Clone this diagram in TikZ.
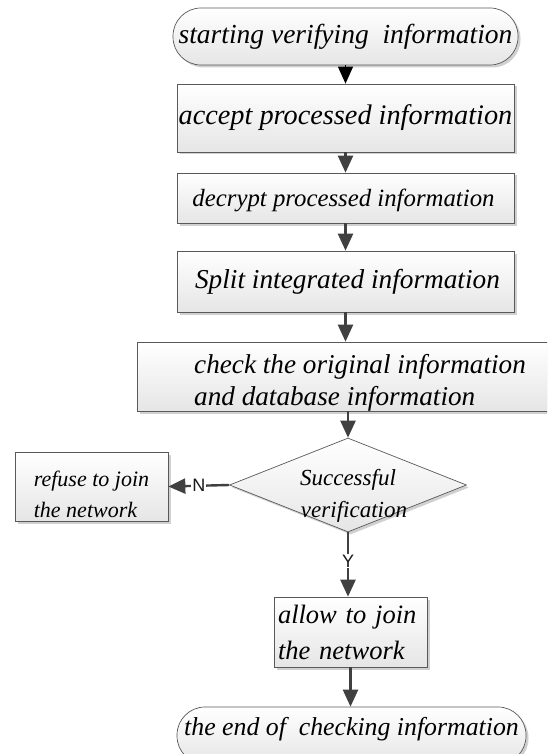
\documentclass[tikz,border=0pt]{standalone}
\usepackage{fontspec}
\setmainfont{Liberation Serif}
\newfontfamily\labsf{Liberation Sans}
\usetikzlibrary{shapes.geometric,arrows.meta,shadows}
\tikzset{
  shad/.style={drop shadow={shadow xshift=2.5pt,shadow yshift=-2.5pt,fill=black!30,opacity=0.6}},
  boxbase/.style={draw=black!65,line width=0.7pt,top color=white,bottom color=black!10,shad,inner sep=0pt},
  procbox/.style={boxbase,rectangle},
  termbox/.style={boxbase,rectangle,rounded corners=28pt},
  decbox/.style={boxbase,diamond,aspect=2.52},
  txt/.style={font=\itshape,text=black,align=center,inner sep=0pt},
  flow/.style={draw=black!75,line width=2.4pt,-{Triangle[length=17pt,width=15pt]}},
  flowblack/.style={draw=black,line width=1.2pt,-{Triangle[length=17pt,width=15pt]}},
  yn/.style={font=\labsf\fontsize{18}{18}\selectfont,fill=white,inner sep=1pt,text=black!90}
}
\begin{document}
\begin{tikzpicture}[x=1pt,y=-1pt]
\useasboundingbox (0,0) rectangle (547,754);
\clip (0,0) rectangle (547,754);
\fill[white] (0,0) rectangle (547,754);

\node[termbox,minimum width=345pt,minimum height=57pt,
  label={[txt,font=\itshape\fontsize{27.5}{32}\selectfont]center:starting verifying\ \ information}] (start) at (345.5,36.5) {};
\node[procbox,minimum width=337pt,minimum height=68pt,
  label={[txt,font=\itshape\fontsize{28.3}{32}\selectfont]center:accept\ processed\ information}] (accept) at (345.5,118) {};
\node[procbox,minimum width=337pt,minimum height=50pt,
  label={[txt,font=\itshape\fontsize{24.8}{30}\selectfont,xshift=-2pt,yshift=-2pt]center:decrypt\ processed\ information}] (decrypt) at (345.5,198) {};
\node[procbox,minimum width=337pt,minimum height=61pt,
  label={[txt,font=\itshape\fontsize{27.3}{32}\selectfont,xshift=2pt]center:Split integrated information}] (split) at (345.5,281.5) {};
\node[procbox,minimum width=446pt,minimum height=69pt,
  label={[txt,font=\itshape\fontsize{27.2}{32}\selectfont,align=left,yshift=-6pt]center:check the original information\\and database information}] (check) at (360,376.5) {};
\node[decbox,minimum width=237pt,minimum height=94pt,
  label={[txt,font=\itshape\fontsize{23}{32}\selectfont,yshift=-11pt]center:Successful\\\hspace*{12pt}verification}] (dia) at (348,485) {};
\node[procbox,minimum width=153pt,minimum height=69pt,
  label={[txt,font=\itshape\fontsize{22}{31}\selectfont,align=left,yshift=-8pt]center:refuse to join\\the network}] (refuse) at (91.5,486.5) {};
\node[procbox,minimum width=153pt,minimum height=70pt,
  label={[txt,font=\itshape\fontsize{26.5}{36}\selectfont,align=left,text width=145pt]center:allow to join\\the network}] (allow) at (350.5,632) {};
\node[termbox,minimum width=349pt,minimum height=57pt,
  label={[txt,font=\itshape\fontsize{25.8}{32}\selectfont,yshift=6pt]center:the end of\ \ checking information}] (end) at (351.5,735.5) {};

\draw[flowblack] (start.south) -- (accept.north);
\draw[flow] (accept.south) -- (decrypt.north);
\draw[flow] (decrypt.south) -- (split.north);
\draw[flow] (split.south) -- (split.south |- check.north);
\draw[flow] (dia.north |- check.south) -- (dia.north);
\draw[flow] (dia.west) -- node[yn]{N} (refuse.east);
\draw[flow] (dia.south) -- node[yn,pos=0.45]{Y} (dia.south |- allow.north);
\draw[flow] (allow.south) -- (allow.south |- end.north);
\end{tikzpicture}
\end{document}
